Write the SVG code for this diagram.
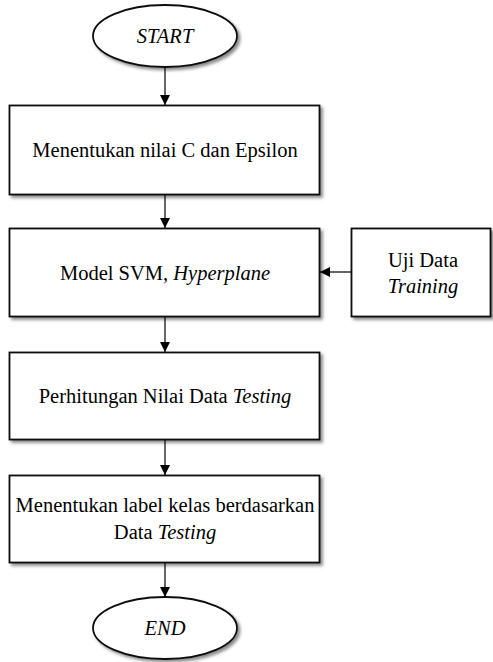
<svg xmlns="http://www.w3.org/2000/svg" width="493" height="662" viewBox="0 0 493 662">
<style>
.shape{fill:#fff;stroke:#111;stroke-width:1.8;filter:url(#sh)}
text{font-family:'Liberation Serif','Times New Roman',Times,serif;font-size:20.5px;fill:#000;text-anchor:middle}
.i{font-style:italic}
.c{stroke:#000;stroke-width:1.2;fill:none;marker-end:url(#ah)}
</style>
<defs>
<filter id="sh" x="-10%" y="-10%" width="130%" height="140%">
<feDropShadow dx="2.5" dy="2.5" stdDeviation="1.5" flood-color="#000" flood-opacity="0.45"/>
</filter>
<marker id="ah" viewBox="0 0 10 10" refX="10" refY="5" markerWidth="10" markerHeight="11" markerUnits="userSpaceOnUse" orient="auto">
<path d="M0,0 L10,5 L0,10 Z" fill="#000"/>
</marker>
</defs>
<g id="connectors">
<line class="c" x1="165" y1="67" x2="165" y2="105"/>
<line class="c" x1="165" y1="195" x2="165" y2="228"/>
<line class="c" x1="351" y1="272" x2="320" y2="272"/>
<line class="c" x1="165" y1="317" x2="165" y2="352"/>
<line class="c" x1="165" y1="440" x2="165" y2="475"/>
<line class="c" x1="165" y1="563" x2="165" y2="597"/>
</g>
<g id="start">
<ellipse class="shape" cx="165" cy="36" rx="72" ry="31"/>
<text class="i" x="165" y="43">START</text>
</g>
<g id="n1">
<rect class="shape" x="9.5" y="105.5" width="310" height="89"/>
<text x="165" y="157">Menentukan nilai C dan Epsilon</text>
</g>
<g id="n2">
<rect class="shape" x="9.5" y="228.5" width="310" height="88"/>
<text x="165" y="280">Model SVM, <tspan class="i">Hyperplane</tspan></text>
</g>
<g id="n2b">
<rect class="shape" x="351.5" y="228.5" width="139" height="88"/>
<text x="423" y="267">Uji Data</text>
<text class="i" x="423" y="293">Training</text>
</g>
<g id="n3">
<rect class="shape" x="9.5" y="352.5" width="310" height="87"/>
<text x="165" y="403">Perhitungan Nilai Data <tspan class="i">Testing</tspan></text>
</g>
<g id="n4">
<rect class="shape" x="9.5" y="475.5" width="310" height="87"/>
<text x="165" y="512">Menentukan label kelas berdasarkan</text>
<text x="165" y="539">Data <tspan class="i">Testing</tspan></text>
</g>
<g id="end">
<ellipse class="shape" cx="165" cy="628" rx="72" ry="31"/>
<text class="i" x="165" y="635">END</text>
</g>
</svg>
